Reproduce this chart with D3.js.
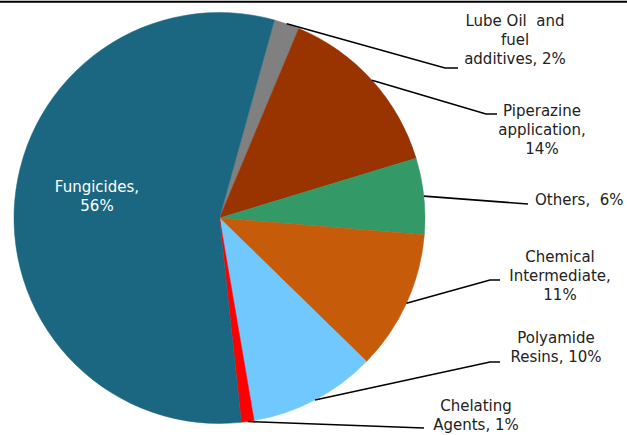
<!DOCTYPE html>
<html>
<head>
<meta charset="utf-8">
<script src="https://cdn.jsdelivr.net/npm/d3@7"></script>
<style>
  html, body { margin: 0; padding: 0; background: #fff; }
  svg { display: block; }
  text { font-family: "DejaVu Sans", Verdana, sans-serif; font-size: 15px; }
</style>
</head>
<body>
<svg id="chart" width="627" height="435"></svg>
<script>
// Application share, clockwise from the gray slice
const categories = [
  "Lube Oil  and fuel additives",
  "Piperazine application",
  "Others",
  "Chemical Intermediate",
  "Polyamide Resins",
  "Chelating Agents",
  "Fungicides"
];
const shares = [2, 14, 6, 11, 10, 1, 56];
const labelLines = [
  ["Lube Oil  and", "fuel", "additives, 2%"],
  ["Piperazine", "application,", "14%"],
  ["Others,  6%"],
  ["Chemical", "Intermediate,", "11%"],
  ["Polyamide", "Resins, 10%"],
  ["Chelating", "Agents, 1%"],
  ["Fungicides,", "56%"]
];
const colors = ["#808080", "#993300", "#339966", "#C65B0A", "#70C8FF", "#FF0000", "#1B6781"];

// Label placement: text anchor point, leader-line elbow/end
const labelLayout = [
  { x: 515, y: 26, anchor: "middle", elbow: [445, 68], end: [458, 68] },
  { x: 542, y: 116, anchor: "middle", elbow: [486, 114], end: [497, 114] },
  { x: 535, y: 205, anchor: "start", elbow: null, end: [528, 204] },
  { x: 560, y: 262, anchor: "middle", elbow: [490, 280], end: [500, 280] },
  { x: 556, y: 343, anchor: "middle", elbow: [490, 362], end: [500, 362] },
  { x: 476, y: 411, anchor: "middle", elbow: null, end: [424, 428] },
  { x: 97, y: 192, anchor: "middle", inside: true }
];
const lineGap = 19;

const svg = d3.select("#chart");
const W = 627, H = 435;
const cx = 219.5, cy = 218, R = 205.5;
const rot = 15.5 * Math.PI / 180;

// top rule
svg.append("line")
  .attr("x1", 0).attr("x2", W)
  .attr("y1", 1.8).attr("y2", 1.8)
  .attr("stroke", "#000").attr("stroke-width", 2);

const data = categories.map((c, i) => ({ name: c, value: shares[i], i }));

const pie = d3.pie()
  .sort(null)
  .value(d => d.value)
  .startAngle(rot)
  .endAngle(rot + 2 * Math.PI);

const arc = d3.arc().innerRadius(0).outerRadius(R);

const g = svg.append("g").attr("transform", `translate(${cx},${cy})`);
const arcs = pie(data);

g.selectAll("path.slice")
  .data(arcs)
  .join("path")
  .attr("class", "slice")
  .attr("d", arc)
  .attr("fill", d => colors[d.data.i])
  .attr("stroke", d => colors[d.data.i])
  .attr("stroke-width", 0.5);

// leader lines from slice edge to labels
arcs.forEach(a => {
  const L = labelLayout[a.data.i];
  if (L.inside) return;
  const mid = (a.startAngle + a.endAngle) / 2;
  const p0 = [cx + R * Math.sin(mid), cy - R * Math.cos(mid)];
  const pts = [p0];
  if (L.elbow) pts.push(L.elbow);
  pts.push(L.end);
  svg.append("path")
    .attr("d", d3.line()(pts))
    .attr("fill", "none")
    .attr("stroke", "#000")
    .attr("stroke-width", 1.6);
});

// labels
labelLayout.forEach((L, i) => {
  const t = svg.append("text")
    .attr("text-anchor", L.anchor)
    .attr("fill", L.inside ? "#fff" : "#222");
  labelLines[i].forEach((s, k) => {
    t.append("tspan")
      .attr("x", L.x)
      .attr("y", L.y + k * lineGap)
      .attr("xml:space", "preserve")
      .style("white-space", "pre")
      .text(s);
  });
});
</script>
</body>
</html>
